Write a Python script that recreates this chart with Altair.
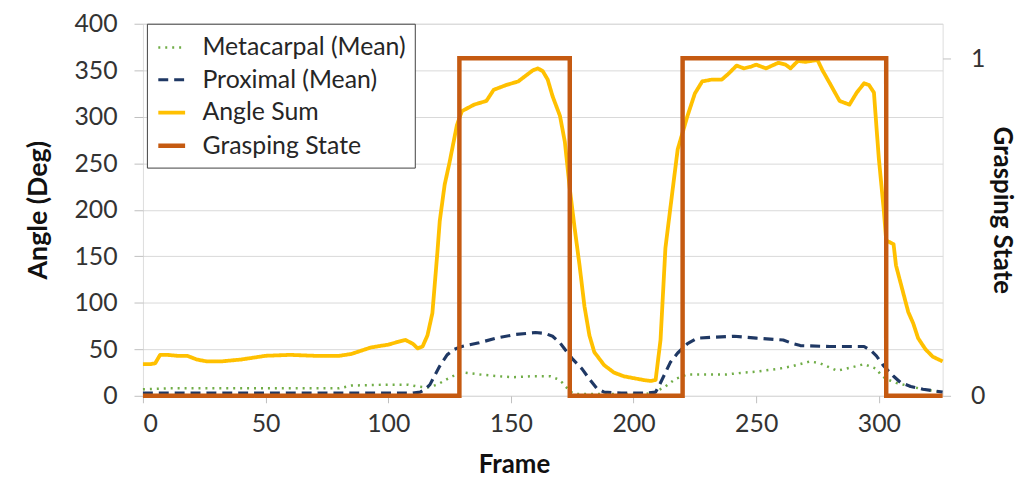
import altair as alt
import pandas as pd

# ---------------- data ----------------
series_names = ["Metacarpal (Mean)", "Proximal (Mean)", "Angle Sum", "Grasping State"]
series_colors = ["#70ad47", "#1f3864", "#ffc000", "#c55a11"]
series_dashes = [[2, 5], [10, 6], [1, 0], [1, 0]]
series_widths = [2.5, 4.5, 3.0, 3.2]

angle_frames = [0, 3, 5, 7, 10, 14, 18, 22, 26, 32, 40, 50, 60, 70, 80, 85, 93, 100, 104, 107,
                110, 112, 114, 116, 118, 120, 121, 123, 125, 128, 130, 135, 140, 143, 148, 153,
                156, 159, 161, 163, 165, 167, 170, 172, 174, 176, 178, 180, 182, 184, 188, 192,
                196, 200, 204, 207, 209, 211, 213, 216, 218, 222, 225, 228, 232, 236, 239, 242,
                245, 248, 250, 254, 259, 262, 264, 267, 270, 275, 277, 280, 284, 288, 291, 294,
                296, 298, 299, 300, 302, 303, 306, 307, 310, 312, 314, 316, 319, 322, 326]
angle_sum = [34, 34, 35, 44, 44, 43, 43, 39, 37, 37, 39, 43, 44, 43, 43, 45, 52, 55, 58, 60,
             56, 51, 53, 65, 89, 153, 188, 227, 251, 291, 306, 313, 317, 329, 334, 338,
             344, 350, 352, 349, 340, 322, 301, 273, 223, 180, 140, 96, 65, 47, 33, 25,
             21, 19, 17, 16, 17, 60, 159, 223, 265, 301, 325, 338, 340, 340, 347, 355,
             352, 354, 356, 352, 358, 356, 352, 360, 359, 361, 350, 336, 317, 313, 326, 336,
             334, 326, 290, 255, 200, 167, 163, 140, 110, 90, 78, 62, 50, 42, 37]

proximal_frames = [0, 110, 113, 115, 117, 119, 121, 124, 127, 130, 137, 144, 152, 160, 164, 167,
                   170, 172, 175, 179, 182, 185, 188, 195, 206, 209, 211, 213, 215, 218, 222,
                   226, 233, 241, 250, 261, 265, 268, 280, 294, 297, 299, 302, 306, 309, 313,
                   318, 326]
proximal_mean = [3, 3, 4, 7, 12, 22, 32, 44, 50, 53, 57, 62, 66, 68, 67, 64,
                 57, 50, 40, 29, 18, 8, 4, 3, 3, 4, 14, 25, 36, 46, 56,
                 62, 63, 64, 62, 60, 56, 54, 53, 53, 48, 43, 32, 21, 14, 10,
                 7, 4]

metacarpal_frames = [0, 10, 30, 60, 80, 85, 100, 108, 112, 116, 120, 124, 127, 131, 137, 145,
                     151, 158, 166, 169, 171, 174, 176, 190, 205, 208, 213, 217, 222, 230, 238,
                     245, 250, 259, 265, 272, 276, 283, 288, 294, 297, 299, 301, 303, 307, 313,
                     318, 326]
metacarpal_mean = [7, 8, 8, 8, 8, 11, 12, 12, 10, 9, 12, 18, 22, 25, 23, 21,
                   20, 21, 21, 18, 14, 5, 2, 2, 2, 3, 10, 18, 23, 23, 23,
                   25, 26, 29, 32, 37, 35, 27, 30, 34, 31, 29, 22, 18, 14, 10,
                   7, 4]

grasp_frames = [0, 129, 174, 220, 303, 326]
grasp_state = [0, 1, 0, 1, 0, 0]

x_ticks = [0, 50, 100, 150, 200, 250, 300]
y_ticks = [0, 50, 100, 150, 200, 250, 300, 350, 400]

# ---------------- tables ----------------
rows = []
for f, v in zip(metacarpal_frames, metacarpal_mean):
    rows.append({"frame": f, "value": v, "series": series_names[0]})
for f, v in zip(proximal_frames, proximal_mean):
    rows.append({"frame": f, "value": v, "series": series_names[1]})
for f, v in zip(angle_frames, angle_sum):
    rows.append({"frame": f, "value": v, "series": series_names[2]})
df_angles = pd.DataFrame(rows)

df_grasp = pd.DataFrame({"frame": grasp_frames, "state": grasp_state,
                         "series": [series_names[3]] * len(grasp_frames)})

FONT = "Lato"

legend = alt.Legend(
    title=None, orient="none", legendX=4, legendY=0,
    labelFont=FONT, labelFontSize=25, labelColor="#262626",
    symbolType="stroke", symbolSize=730, labelOffset=15, rowPadding=4,
    padding=9, strokeColor="#404040", fillColor="white", cornerRadius=0,
    labelLimit=400,
)

color = alt.Color("series:N", scale=alt.Scale(domain=series_names, range=series_colors), legend=legend)
dash = alt.StrokeDash("series:N", scale=alt.Scale(domain=series_names, range=series_dashes), legend=legend)
width = alt.StrokeWidth("series:N", scale=alt.Scale(domain=series_names, range=series_widths), legend=legend)

x_enc = alt.X(
    "frame:Q",
    scale=alt.Scale(domain=[0, 326], nice=False, zero=False),
    axis=alt.Axis(values=x_ticks, title="Frame", grid=False, domain=False,
                  tickColor="#bfbfbf", tickSize=7, labelPadding=9,
                  labelFont=FONT, labelFontSize=25, labelColor="#333333",
                  titleFont=FONT, titleFontSize=26, titleFontWeight="bold",
                  titleColor="#111111", titlePadding=15, titleX=374),
)

left = alt.Chart(df_angles).mark_line(strokeCap="butt", strokeJoin="round").encode(
    x=x_enc,
    y=alt.Y("value:Q", scale=alt.Scale(domain=[0, 400], nice=False),
            axis=alt.Axis(values=y_ticks, title="Angle (Deg)", grid=True,
                          gridColor="#d9d9d9", domain=False, tickColor="#bfbfbf",
                          tickSize=9, labelPadding=17,
                          labelFont=FONT, labelFontSize=25, labelColor="#333333",
                          titleFont=FONT, titleFontSize=27, titleFontWeight="bold",
                          titleColor="#111111", titlePadding=22)),
    color=color, strokeDash=dash, strokeWidth=width,
)

right = alt.Chart(df_grasp).mark_line(interpolate="step-after", strokeCap="butt").encode(
    x=alt.X("frame:Q"),
    y=alt.Y("state:Q", scale=alt.Scale(domain=[0, 400 / 363], nice=False),
            axis=alt.Axis(orient="right", values=[0, 1], format="d", title="Grasping State",
                          grid=False, domain=False, tickColor="#bfbfbf", tickSize=8,
                          labelPadding=20, labelFont=FONT, labelFontSize=25,
                          labelColor="#333333", titleFont=FONT, titleFontSize=26,
                          titleFontWeight="bold", titleColor="#111111", titleAngle=90,
                          titlePadding=4)),
    color=color, strokeDash=dash, strokeWidth=width,
)

chart = alt.layer(left, right).resolve_scale(y="independent").properties(
    width=806, height=375,
    autosize=alt.AutoSizeParams(type="none"),
    padding={"left": 136, "top": 14, "right": 80, "bottom": 83},
).configure_view(fill="#f3f3f3", stroke=None).configure(background="white")

chart.save("out.html", embed_options={"renderer": "svg", "actions": False})
